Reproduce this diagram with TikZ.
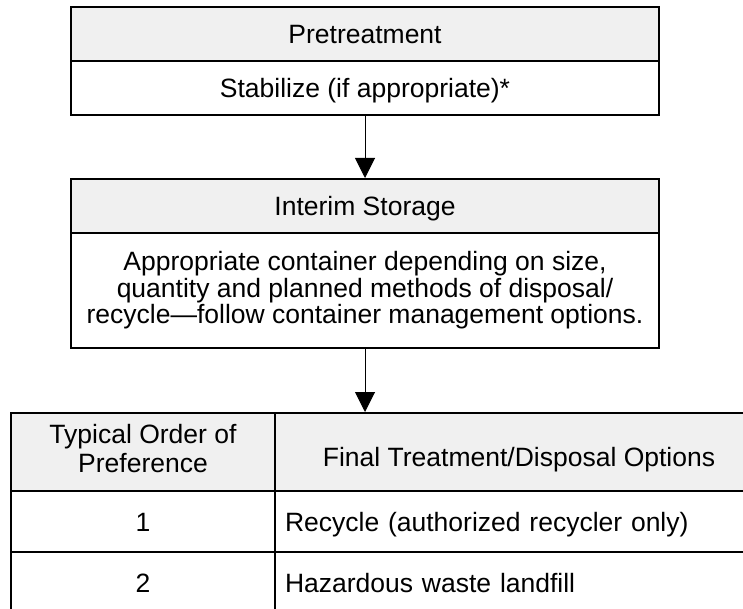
\documentclass[tikz,border=0pt]{standalone}
\usepackage{fontspec}
\setmainfont{Liberation Sans}
\usetikzlibrary{arrows.meta}
\definecolor{hdrgray}{RGB}{240,240,240}
\begin{document}
\begin{tikzpicture}[x=1pt,y=-1pt,
  box/.style={draw=black, line width=2pt, inner sep=0pt, font=\fontsize{26.5}{26.5}\selectfont},
  one/.style={box, text height=19pt, text depth=0pt},
  shade/.style={fill=hdrgray},
  wide/.style={minimum width=588pt},
  flow/.style={line width=1pt, -{Triangle[length=20pt,width=20pt]}}]
\useasboundingbox (0,0) rectangle (743,609);
\clip (0,0) rectangle (743,609);
% Pretreatment box
\node[one, shade, wide, minimum height=54pt] (pre) at (365,34) {Pretreatment};
\node[one, wide, minimum height=54pt] (stab) at (365,88) {Stabilize (if appropriate)*};
% Interim storage box
\node[one, shade, wide, minimum height=54pt] (interim) at (365,206) {Interim Storage};
\node[box, wide, minimum height=115pt, align=center] (approp) at (365,290.5)
  {Appropriate container depending on size,\\quantity and planned methods of disposal/\\recycle—follow container management options.};
% Table
\node[box, shade, minimum width=264pt, minimum height=78pt, align=center,
      font=\fontsize{26.5}{29.5}\selectfont] (h1) at (143,452)
  {\raisebox{7pt}{\begin{tabular}{@{}c@{}}Typical Order of\\Preference\end{tabular}}};
\node[one, shade, minimum width=488pt, minimum height=78pt, text height=29pt] (h2) at (519,452) {Final Treatment/Disposal Options};
\node[one, minimum width=264pt, minimum height=61pt] (r1a) at (143,521.5) {1};
\node[one, minimum width=488pt, minimum height=61pt, text width=468pt, align=left, inner xsep=10pt] (r1b) at (519,521.5) {Recycle (authorized recycler only)};
\node[one, minimum width=264pt, minimum height=61pt] (r2a) at (143,582.5) {2};
\node[one, minimum width=488pt, minimum height=61pt, text width=468pt, align=left, inner xsep=10pt] (r2b) at (519,582.5) {Hazardous waste landfill};
% Connectors
\draw[flow] (stab.south) -- (interim.north);
\draw[flow] (approp.south) -- (approp.south |- h2.north);
\end{tikzpicture}
\end{document}
